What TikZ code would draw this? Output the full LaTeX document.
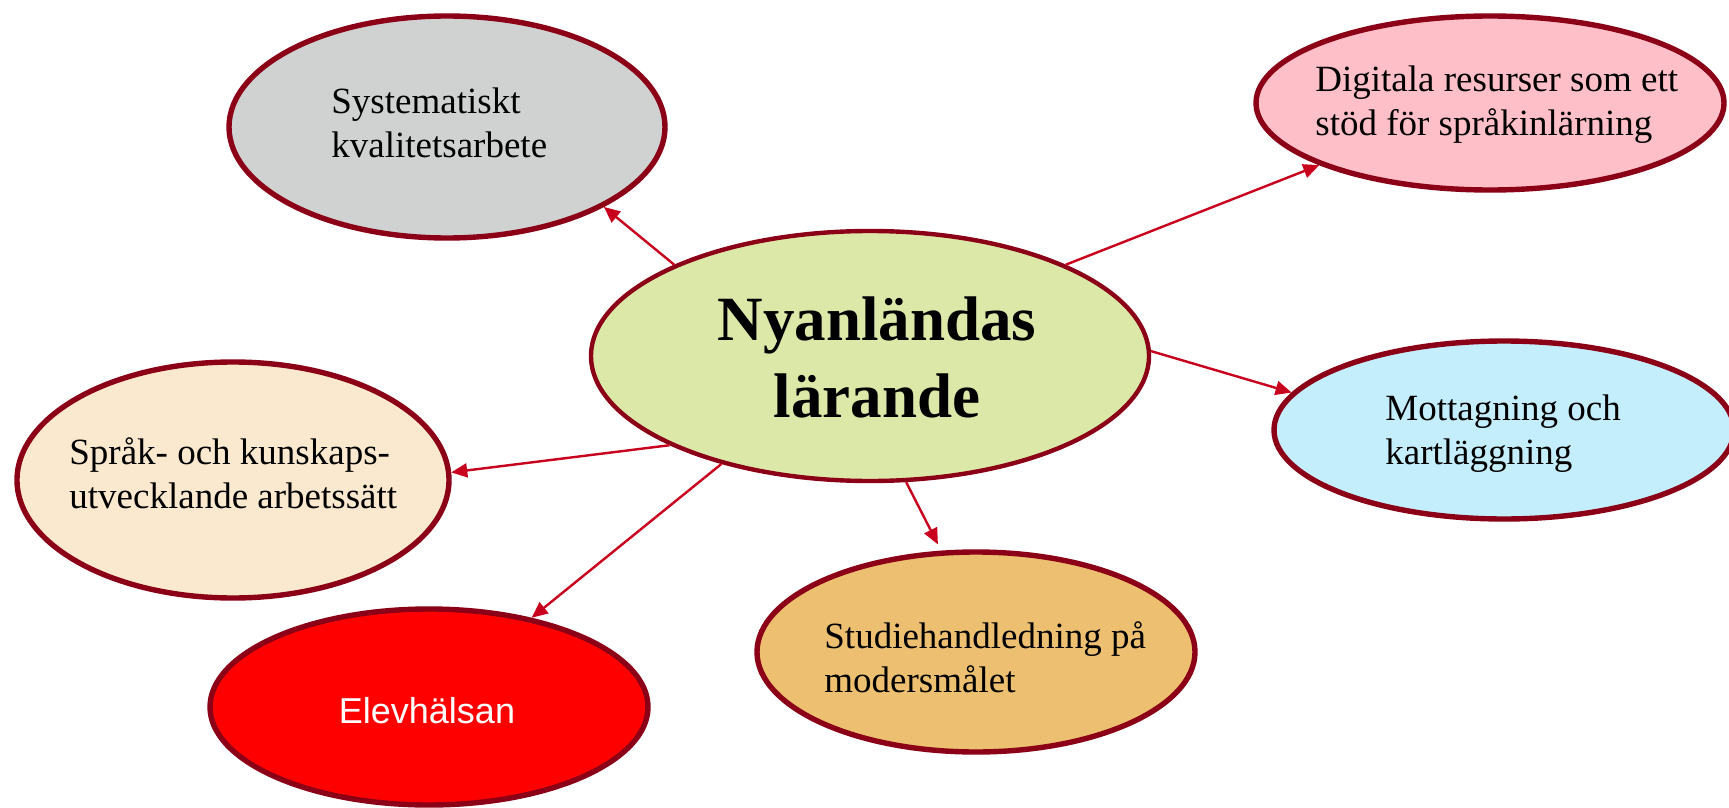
\documentclass[tikz,border=0pt]{standalone}
\usepackage{fontspec}
\setmainfont{Liberation Serif}
\newfontfamily\sansf{Liberation Sans}
\usetikzlibrary{shapes.geometric,arrows.meta}
\definecolor{bord}{HTML}{8B0016}
\definecolor{arr}{HTML}{C8001E}
\definecolor{fgray}{HTML}{D0D2D2}
\definecolor{fpink}{HTML}{FFBFC8}
\definecolor{fgreen}{HTML}{DCE8A8}
\definecolor{fblue}{HTML}{C5EEFD}
\definecolor{fbeige}{HTML}{FAE9CF}
\definecolor{fred}{HTML}{FF0000}
\definecolor{ftan}{HTML}{EDBF70}
\tikzset{
  oval/.style={ellipse, draw=bord, line width=2.7pt, inner sep=0pt},
  lbl/.style={anchor=base west, align=left, inner sep=0pt, font=\fontsize{18.5pt}{22pt}\selectfont},
  link/.style={draw=arr, line width=1.2pt, -{Triangle[length=8pt,width=7pt]}},
}
\begin{document}
\begin{tikzpicture}[x=0.5pt,y=-0.5pt]
\fill[white] (0,0) rectangle (1729,808);
\useasboundingbox (0,0) rectangle (1729,808);
\node[oval, fill=fgray, minimum width=218pt, minimum height=111pt] (gray) at (447,127) {};
\node[oval, fill=fpink, minimum width=234pt, minimum height=87pt] (pink) at (1490,103) {};
\node[oval, fill=fgreen, line width=2.2pt, minimum width=279pt, minimum height=125pt] (c) at (870,356) {};
\node[oval, fill=fblue, minimum width=230pt, minimum height=89pt] (blue) at (1504,430) {};
\node[oval, fill=fbeige, minimum width=216pt, minimum height=118pt] (beige) at (233,480) {};
\node[oval, fill=fred, minimum width=219pt, minimum height=98pt] (elev) at (429,707) {};
\node[oval, fill=ftan, minimum width=219pt, minimum height=100pt] (studie) at (976,652) {};

\node[lbl] (tgray) at (331,157) {Systematiskt\\kvalitetsarbete};
\node[lbl] (tpink) at (1315,135) {Digitala resurser som ett\\stöd för språkinlärning};
\node[anchor=base, align=center, inner sep=0pt, font=\fontsize{31.5pt}{38.5pt}\selectfont\bfseries] (tc) at (877,417) {Nyanländas\\lärande};
\node[lbl] (tblue) at (1385,464) {Mottagning och\\kartläggning};
\node[lbl] (tbeige) at (69,508) {Språk- och kunskaps-\\utvecklande arbetssätt};
\node[anchor=base, inner sep=0pt, text=white, font=\sansf\fontsize{18pt}{22pt}\selectfont] (telev) at (427,723) {Elevhälsan};
\node[lbl] (tstudie) at (824,692) {Studiehandledning på\\modersmålet};

\draw[link] (c.155) -- (gray.333);
\draw[link] (c.25) -- (pink.200);
\draw[link] (c.1) -- (blue.170);
\draw[link] (c.204) -- (beige.2);
\draw[link] (c.216) -- (elev.41);
\draw[link, shorten >=3.5pt] (c.286) -- (studie.109);
\end{tikzpicture}
\end{document}
